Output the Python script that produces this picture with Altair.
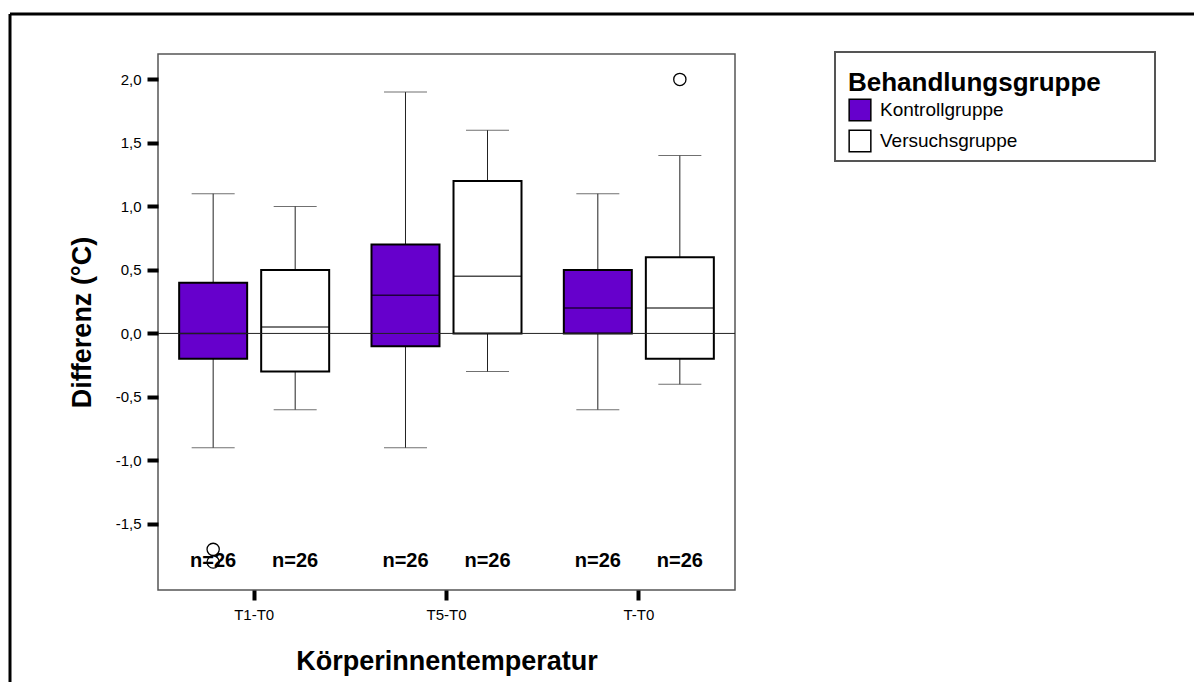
import altair as alt
import pandas as pd

# Box-plot summary per time span and treatment group
zeitpunkte = ["T1-T0", "T1-T0", "T5-T0", "T5-T0", "T-T0", "T-T0"]
gruppen = ["Kontrollgruppe", "Versuchsgruppe"] * 3
whisker_unten = [-0.9, -0.6, -0.9, -0.3, -0.6, -0.4]
quartil_1 = [-0.2, -0.3, -0.1, 0.0, 0.0, -0.2]
median = [0.0, 0.05, 0.3, 0.45, 0.2, 0.2]
quartil_3 = [0.4, 0.5, 0.7, 1.2, 0.5, 0.6]
whisker_oben = [1.1, 1.0, 1.9, 1.6, 1.1, 1.4]
anzahl = [26, 26, 26, 26, 26, 26]

# Outliers
ausreisser_zeit = ["T1-T0", "T1-T0", "T-T0"]
ausreisser_gruppe = ["Kontrollgruppe", "Kontrollgruppe", "Versuchsgruppe"]
ausreisser_wert = [-1.7, -1.8, 2.0]

kategorien = ["T1-T0", "T5-T0", "T-T0"]
gruppen_reihenfolge = ["Kontrollgruppe", "Versuchsgruppe"]
farben = ["#6600cc", "#ffffff"]

boxen = pd.DataFrame({
    "Zeitpunkt": zeitpunkte,
    "Gruppe": gruppen,
    "unten": whisker_unten,
    "q1": quartil_1,
    "median": median,
    "q3": quartil_3,
    "oben": whisker_oben,
    "label": [f"n={n}" for n in anzahl],
})
ausreisser = pd.DataFrame({
    "Zeitpunkt": ausreisser_zeit,
    "Gruppe": ausreisser_gruppe,
    "wert": ausreisser_wert,
})

FONT = "Liberation Sans"

x_enc = alt.X(
    "Zeitpunkt:N",
    sort=kategorien,
    scale=alt.Scale(paddingInner=0, paddingOuter=0),
    axis=alt.Axis(
        title="Körperinnentemperatur",
        labelAngle=0,
        labelFontSize=15,
        labelPadding=7,
        tickSize=10,
        tickWidth=4,
        tickColor="black",
        domain=False,
        titleFontSize=27,
        titleFontWeight="bold",
        titlePadding=26,
    ),
)
xoff_enc = alt.XOffset(
    "Gruppe:N",
    sort=gruppen_reihenfolge,
    scale=alt.Scale(paddingInner=0.171, paddingOuter=0.258),
)
y_scale = alt.Scale(domain=[-2.02, 2.2], nice=False, zero=False)
y_axis = alt.Axis(
    title="Differenz (°C)",
    values=[-1.5, -1.0, -0.5, 0.0, 0.5, 1.0, 1.5, 2.0],
    labelExpr="replace(replace(format(datum.value, '.1f'), '.', ','), '−', '-')",
    labelFontSize=15,
    labelPadding=6,
    tickSize=11,
    tickWidth=4,
    tickColor="black",
    domain=False,
    grid=False,
    titleFontSize=27,
    titleFontWeight="bold",
    titlePadding=19,
)

basis = alt.Chart(boxen)

whisker = basis.mark_rule(color="#222", strokeWidth=1).encode(
    x=x_enc, xOffset=xoff_enc,
    y=alt.Y("unten:Q", scale=y_scale, axis=y_axis),
    y2="oben:Q",
)
kappe_oben = basis.mark_tick(color="#333", size=43, thickness=1).encode(
    x=x_enc, xOffset=xoff_enc, y="oben:Q"
)
kappe_unten = basis.mark_tick(color="#333", size=43, thickness=1).encode(
    x=x_enc, xOffset=xoff_enc, y="unten:Q"
)
box = basis.mark_bar(stroke="black", strokeWidth=2).encode(
    x=x_enc, xOffset=xoff_enc,
    y="q1:Q", y2="q3:Q",
    fill=alt.Fill(
        "Gruppe:N",
        sort=gruppen_reihenfolge,
        scale=alt.Scale(domain=gruppen_reihenfolge, range=farben),
        legend=alt.Legend(
            title="Behandlungsgruppe",
            orient="none",
            legendX=690,
            legendY=16,
            padding=0,
            titleFontSize=26,
            titleFontWeight="bold",
            titleColor="black",
            titleLimit=600,
            titlePadding=2,
            labelFontSize=19,
            labelLimit=400,
            labelColor="black",
            labelOffset=8,
            symbolType="square",
            symbolSize=470,
            symbolStrokeColor="black",
            symbolStrokeWidth=1.5,
            symbolOpacity=1,
            rowPadding=3,
        ),
    ),
)
mittel = basis.mark_tick(color="black", size=68, thickness=1.5).encode(
    x=x_enc, xOffset=xoff_enc, y="median:Q"
)
null_linie = alt.Chart(pd.DataFrame({"y": [0.0]})).mark_rule(
    color="#222", strokeWidth=1
).encode(y="y:Q")
n_text = basis.mark_text(
    font=FONT, fontSize=20, fontWeight="bold", color="black"
).encode(x=x_enc, xOffset=xoff_enc, y=alt.datum(-1.79), text="label:N")
punkte = alt.Chart(ausreisser).mark_point(
    shape="circle", filled=False, color="black", size=150, strokeWidth=1.3, opacity=1
).encode(x=x_enc, xOffset=xoff_enc, y="wert:Q")

# Legend frame and the page frame lines
dummy = pd.DataFrame({"k": [0]})
legend_rahmen = alt.Chart(dummy).mark_rect(
    fill="white", stroke="#555", strokeWidth=2
).encode(x=alt.value(677), x2=alt.value(997), y=alt.value(-2), y2=alt.value(107))
rahmen_oben = alt.Chart(dummy).mark_rule(color="black", strokeWidth=3).encode(
    x=alt.value(-148), x2=alt.value(1036), y=alt.value(-40)
)
rahmen_links = alt.Chart(dummy).mark_rule(color="black", strokeWidth=3).encode(
    x=alt.value(-148), y=alt.value(-40), y2=alt.value(628)
)

chart = alt.layer(
    rahmen_oben, rahmen_links, legend_rahmen,
    whisker, kappe_oben, kappe_unten, box, mittel, null_linie, n_text, punkte,
).properties(
    width=577,
    height=536,
    padding={"left": 8, "top": 12, "right": 0, "bottom": 0},
    background="white",
).configure(
    font=FONT,
).configure_view(
    stroke="#555", strokeWidth=1.5
).configure_axis(
    labelColor="black", titleColor="black", labelFont=FONT, titleFont=FONT
).configure_legend(
    labelFont=FONT, titleFont=FONT
)

chart.save("out.html", embed_options={"renderer": "svg", "actions": False})
